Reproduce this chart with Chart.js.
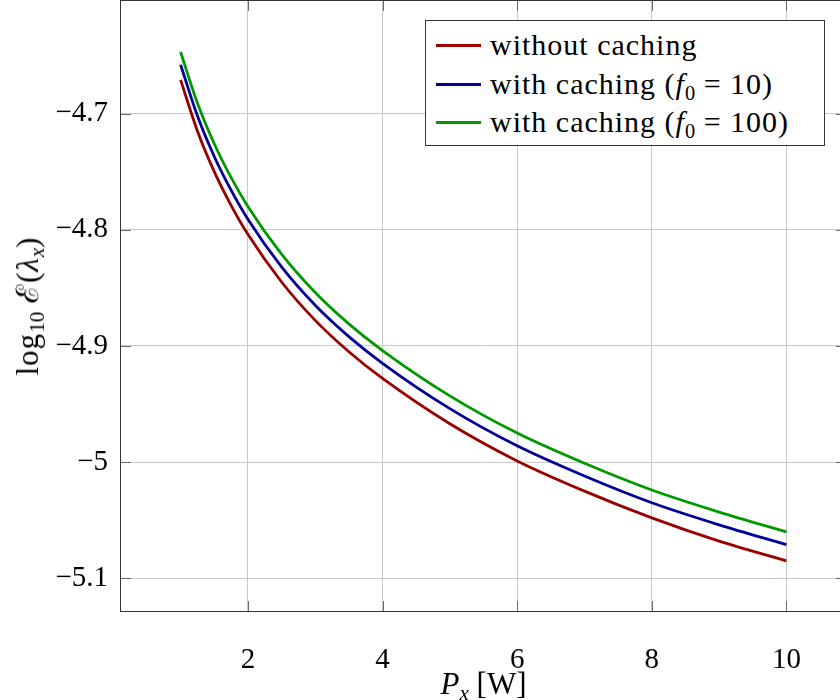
<!DOCTYPE html>
<html>
<head>
<meta charset="utf-8">
<script src="https://cdn.jsdelivr.net/npm/chart.js@4.4.1/dist/chart.umd.min.js"></script>
<style>
body { margin: 0; overflow: hidden; background: #fff; }
#wrap { position: relative; width: 847px; height: 700px; font-family: "Liberation Serif", "DejaVu Serif", serif; color: #000; }
#legend { position: absolute; left: 425px; top: 20px; width: 398px; height: 124px; border: 1px solid #333; background: #fff; }
.row { position: absolute; left: 0; height: 39px; line-height: 39px; font-size: 30px; letter-spacing: 1px; white-space: nowrap; }
.sw { position: absolute; left: 10px; top: 19px; width: 45px; height: 3px; }
.tx { position: absolute; left: 64px; top: 0; }
sub { font-size: 68%; vertical-align: -0.3em; line-height: 0; letter-spacing: 0; }
#xtitle { position: absolute; left: 120px; width: 727px; top: 666px; text-align: center; font-size: 31px; line-height: 36px; }
#ytitle { position: absolute; left: 26px; top: 306px; transform: translate(-50%, -50%) rotate(-90deg); font-size: 31px; letter-spacing: 1px; white-space: nowrap; }
</style>
</head>
<body>
<div id="wrap">
  <canvas id="myChart" width="847" height="700"></canvas>
  <div id="legend"></div>
  <div id="xtitle"><i>P</i><sub><i>x</i></sub> [W]</div>
  <div id="ytitle">log<sub>10</sub> ℰ(<i>λ</i><sub><i>x</i></sub>)</div>
</div>
<script>
// transmit power P_x [W]
let px = [1, 1.25, 1.5, 1.75, 2, 2.5, 3, 3.5, 4, 5, 6, 7, 8, 9, 10];
// log10 E(lambda_x)
let noCache = [-4.671, -4.715, -4.750, -4.779, -4.804, -4.845, -4.878, -4.905, -4.928, -4.967, -4.999, -5.025, -5.048, -5.068, -5.085];
let cache10 = [-4.658, -4.702, -4.737, -4.766, -4.791, -4.832, -4.865, -4.892, -4.915, -4.954, -4.986, -5.012, -5.035, -5.054, -5.071];
let cache100 = [-4.647, -4.691, -4.726, -4.755, -4.780, -4.821, -4.854, -4.881, -4.904, -4.943, -4.975, -5.001, -5.024, -5.043, -5.060];

let xTicks = [2, 4, 6, 8, 10];
let yTicks = [-4.7, -4.8, -4.9, -5, -5.1];
let yTickLabels = ['\u22124.7', '\u22124.8', '\u22124.9', '\u22125', '\u22125.1'];

let seriesNames = ['without caching', 'with caching (<i>f</i><sub>0</sub> = 10)', 'with caching (<i>f</i><sub>0</sub> = 100)'];
let seriesColors = ['rgb(153,0,0)', 'rgb(0,0,153)', 'rgb(0,153,0)'];

function pts(ys) {
    return px.map(function (x, i) { return { x: x, y: ys[i] }; });
}

let frame = {
    id: 'frame',
    afterDraw: function (chart) {
        let c = chart.ctx, a = chart.chartArea;
        c.save();
        c.strokeStyle = '#6a6a6a';
        c.lineWidth = 1;
        xTicks.forEach(function (v) {
            let x = Math.round(chart.scales.x.getPixelForValue(v)) + 0.5;
            c.beginPath();
            c.moveTo(x, a.bottom); c.lineTo(x, a.bottom - 11);
            c.moveTo(x, a.top); c.lineTo(x, a.top + 11);
            c.stroke();
        });
        yTicks.forEach(function (v) {
            let y = Math.round(chart.scales.y.getPixelForValue(v)) + 0.5;
            c.beginPath();
            c.moveTo(a.left, y); c.lineTo(a.left + 11, y);
            c.moveTo(a.right, y); c.lineTo(a.right - 11, y);
            c.stroke();
        });
        c.strokeStyle = '#333';
        c.strokeRect(a.left + 0.5, a.top + 0.5, a.right - a.left - 1, a.bottom - a.top - 1);
        c.restore();
    }
};

let sets = [noCache, cache10, cache100].map(function (ys, i) {
    return {
        label: seriesNames[i],
        data: pts(ys),
        borderColor: seriesColors[i],
        borderWidth: 2.8,
        pointRadius: 0,
        fill: false,
        cubicInterpolationMode: 'monotone'
    };
});

let ctx = document.getElementById('myChart');
let myChart = new Chart(ctx, {
    type: 'line',
    data: { datasets: sets },
    options: {
        responsive: false,
        animation: false,
        layout: { padding: { top: 0, left: 0, right: 0, bottom: 0 } },
        plugins: { legend: { display: false }, tooltip: { enabled: false } },
        scales: {
            x: {
                type: 'linear',
                min: 0.1,
                max: 10.9,
                afterBuildTicks: function (s) { s.ticks = xTicks.map(function (v) { return { value: v }; }); },
                afterFit: function (s) { s.height = 88; s.paddingLeft = 0; s.paddingRight = 0; },
                grid: { color: '#c8c8c8', drawTicks: false },
                border: { display: false },
                ticks: { color: '#000', padding: 31, maxRotation: 0, font: { family: 'Liberation Serif', size: 29 } }
            },
            y: {
                type: 'linear',
                min: -5.129,
                max: -4.6023,
                afterBuildTicks: function (s) { s.ticks = yTicks.map(function (v) { return { value: v }; }); },
                afterFit: function (s) { s.width = 120; s.paddingTop = 0; s.paddingBottom = 0; },
                grid: { color: '#c8c8c8', drawTicks: false },
                border: { display: false },
                ticks: {
                    color: '#000', padding: 12,
                    font: { family: 'Liberation Serif', size: 29 },
                    callback: function (v) { return yTickLabels[yTicks.indexOf(v)]; }
                }
            }
        }
    },
    plugins: [frame]
});

let legendDiv = document.getElementById('legend');
let rowTops = [3.5, 42.5, 80.5];
seriesNames.forEach(function (n, i) {
    let r = document.createElement('div');
    r.className = 'row';
    r.style.top = rowTops[i] + 'px';
    r.innerHTML = '<span class="sw" style="background:' + seriesColors[i] + '"></span><span class="tx">' + n + '</span>';
    legendDiv.appendChild(r);
});
</script>
</body>
</html>
